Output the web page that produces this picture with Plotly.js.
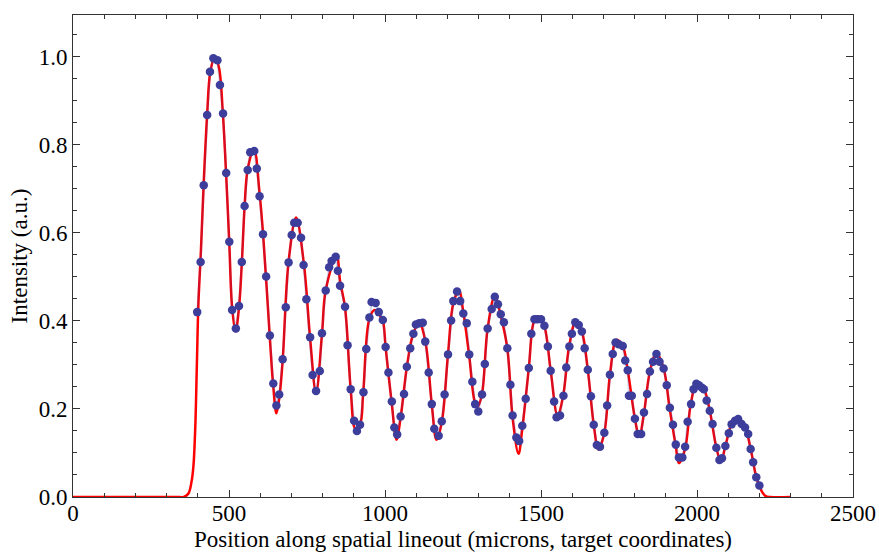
<!DOCTYPE html>
<html>
<head>
<meta charset="utf-8">
<script src="https://cdn.plot.ly/plotly-3.0.1.min.js"></script>
<style>
html,body{margin:0;padding:0;background:#fff;font-family:'Liberation Serif',serif;}
#chart{width:879px;height:553px;}
</style>
</head>
<body>
<div id="chart"></div>
<script>
// Measured data points (blue dots)
const dataX = [398,409,419,430,439,450,463,471,481,491,501,510,522,532,541,550,560,568,581,589,598,609,619,631,642,652,661,672,682,691,701,709,720,731,739,748,760,768,779,791,798,810,821,829,842,849,856,
872,880,890,901,910,920,931,940,950,957,970,980,993,1002,1011,1022,1030,1039,1050,1061,1070,1081,1091,1099,1110,1121,1129,1140,1150,1158,1172,1182,1191,1202,1212,1219,1231,1241,1251,1262,1270,1280,1289,1299,
1311,1320,1329,1342,1352,1362,1371,1381,1392,1402,1409,1421,1430,1440,1451,1461,1469,1479,1488,1500,1511,1522,1531,1542,1550,1561,1572,1581,1591,1599,1610,1621,1631,1640,1650,1660,1669,1679,1689,1703,1712,1721,1730,1739,1749,1762,1770,1778,1782,
1791,1801,1810,1821,1830,1840,1849,1859,1870,1880,1893,1903,1913,1923,1932,1942,1953,1962,1970,1981,1989,1998,2006,2016,2022,2031,2041,2050,2062,2072,2080,2091,2102,2111,2122,2132,2143,2154,2164,2172,2180,2190,2200];
const dataY = [0.420,0.534,0.708,0.868,0.966,0.997,0.992,0.936,0.871,0.736,0.580,0.425,0.383,0.434,0.534,0.661,0.743,0.783,0.786,0.746,0.683,0.597,0.501,0.367,0.258,0.208,0.233,0.313,0.431,0.533,0.595,0.623,0.623,0.589,0.527,0.449,0.363,0.277,0.241,0.286,0.372,0.469,0.522,0.536,0.546,0.514,0.480,
0.432,0.345,0.245,0.173,0.150,0.164,0.238,0.336,0.408,0.443,0.441,0.420,0.402,0.341,0.283,0.217,0.158,0.142,0.183,0.234,0.296,0.338,0.371,0.392,0.395,0.396,0.353,0.283,0.211,0.155,0.139,0.172,0.233,0.324,0.401,0.445,0.467,0.445,0.417,0.395,0.324,0.262,0.211,0.194,
0.233,0.302,0.383,0.427,0.455,0.438,0.415,0.397,0.338,0.255,0.185,0.135,0.127,0.162,0.223,0.293,0.371,0.404,0.404,0.404,0.389,0.342,0.287,0.217,0.181,0.185,0.230,0.294,0.342,0.371,0.397,0.391,0.376,0.338,0.289,0.229,0.164,0.118,0.114,0.146,0.208,0.278,0.325,0.351,0.347,0.343,0.310,0.288,0.230,
0.230,0.178,0.143,0.143,0.192,0.234,0.285,0.307,0.325,0.307,0.292,0.254,0.203,0.164,0.119,0.090,0.090,0.114,0.171,0.211,0.245,0.257,0.254,0.248,0.245,0.219,0.196,0.166,0.112,0.084,0.088,0.116,0.145,0.165,0.173,0.177,0.166,0.158,0.143,0.109,0.079,0.045,0.026];

// Fitted model curve (red)
const fitX = [0,340,355,370,380,386,392,397,402,410,420,430,440,455,468,480,491,501,510,521,532,541,550,560,580,598,610,631,642,652,662,672,691,715,740,760,779,798,810,845,856,872,890,905,920,930,950,967,980,993,1002,1021,1037,1050,1070,1090,1110,1129,1150,1165,1182,1202,1219,1237,1251,1270,1288,1297,1311,1329,1352,1370,1392,1409,1428,1440,1461,1478,1492,1510,1531,1553,1571,1590,1612,1631,1650,1669,1684,1703,1721,1742,1762,1778,1801,1815,1830,1849,1870,1893,1912,1932,1942,1962,1980,1999,2022,2041,2062,2077,2091,2111,2130,2154,2172,2190,2200,2210,2220,2235,2300];
const fitY = [0,0,0,0.008,0.035,0.07,0.16,0.3,0.44,0.56,0.73,0.87,0.965,1.0,0.975,0.875,0.73,0.575,0.43,0.376,0.43,0.53,0.66,0.745,0.792,0.69,0.59,0.36,0.25,0.19,0.23,0.31,0.535,0.635,0.53,0.36,0.236,0.37,0.47,0.55,0.49,0.43,0.245,0.155,0.165,0.235,0.405,0.425,0.415,0.40,0.34,0.217,0.13,0.18,0.295,0.37,0.395,0.355,0.21,0.13,0.17,0.325,0.44,0.469,0.42,0.32,0.215,0.205,0.235,0.383,0.457,0.415,0.338,0.18,0.098,0.155,0.293,0.40,0.41,0.39,0.287,0.185,0.23,0.342,0.40,0.376,0.289,0.164,0.108,0.146,0.278,0.357,0.343,0.288,0.178,0.137,0.19,0.285,0.327,0.292,0.203,0.115,0.077,0.11,0.211,0.258,0.245,0.196,0.112,0.08,0.116,0.165,0.178,0.158,0.109,0.045,0.025,0.01,0.002,0,0];

const xTickVals = [0,500,1000,1500,2000,2500];
const xTickText = ["0","500","1000","1500","2000","2500"];
const yTickVals = [0,0.2,0.4,0.6,0.8,1.0];
const yTickText = ["0.0","0.2","0.4","0.6","0.8","1.0"];
const xTitle = "Position along spatial lineout (microns, target coordinates)";
const yTitle = "Intensity (a.u.)";

function draw() {
  const traces = [
    {x: fitX, y: fitY, mode: "lines", type: "scatter",
     line: {color: "#ff0000", width: 2.5, shape: "spline", smoothing: 1.0},
     hoverinfo: "skip", showlegend: false},
    {x: dataX, y: dataY, mode: "lines+markers", type: "scatter",
     line: {color: "rgba(60,60,160,0.22)", width: 2},
     marker: {color: "#3d3d9c", size: 8.5},
     showlegend: false}
  ];
  const layout = {
    width: 879, height: 553,
    margin: {l: 73, r: 26, t: 15, b: 56},
    paper_bgcolor: "#fff", plot_bgcolor: "#fff",
    font: {family: "Liberation Serif", size: 23, color: "#000"},
    xaxis: {
      range: [0, 2500], tickvals: xTickVals, ticktext: xTickText,
      showline: true, linecolor: "#333", linewidth: 1, mirror: "allticks",
      ticks: "inside", ticklen: 7, tickwidth: 1, tickcolor: "#333",
      showgrid: false, zeroline: false,
      tickfont: {family: "Liberation Serif", size: 23, color: "#000"},
      ticklabelstandoff: -5,
      minor: {dtick: 100, tick0: 0, ticks: "inside", ticklen: 4, tickcolor: "#333", showgrid: false},
      title: {text: xTitle, font: {family: "Liberation Serif", size: 23, color: "#000"}, standoff: 6}
    },
    yaxis: {
      range: [0, 1.095], tickvals: yTickVals, ticktext: yTickText,
      showline: true, linecolor: "#333", linewidth: 1, mirror: "allticks",
      ticks: "inside", ticklen: 7, tickwidth: 1, tickcolor: "#333",
      showgrid: false, zeroline: false,
      tickfont: {family: "Liberation Serif", size: 23, color: "#000"},
      minor: {dtick: 0.05, tick0: 0, ticks: "inside", ticklen: 4, tickcolor: "#333", showgrid: false},
      title: {text: yTitle, font: {family: "Liberation Serif", size: 23, color: "#000"}, standoff: 4}
    }
  };
  Plotly.newPlot("chart", traces, layout, {displayModeBar: false});
}

if (document.fonts && document.fonts.load) {
  document.fonts.load('23px "Liberation Serif"').then(draw, draw);
} else {
  draw();
}
</script>
</body>
</html>
